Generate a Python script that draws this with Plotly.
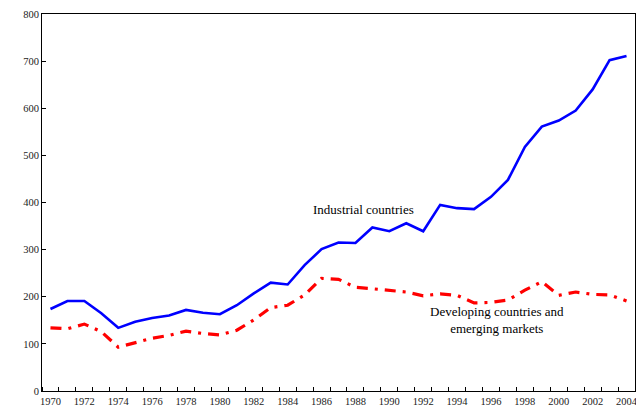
import plotly.graph_objects as go

years = list(range(1970, 2005))
industrial = [174, 191, 191, 165, 134, 147, 155, 160, 172, 166, 163, 182, 207, 230, 226, 267, 301,
              315, 314, 347, 339, 356, 339, 395, 388, 386, 412, 448, 518, 561, 574, 595, 640, 702, 711]
developing = [134, 132, 142, 126, 93, 103, 112, 118, 127, 122, 119, 129, 151, 177, 182, 204, 239,
              237, 220, 217, 214, 210, 202, 206, 203, 187, 188, 193, 214, 232, 203, 210, 205, 204, 191]
x_labels = [str(y) for y in range(1970, 2005, 2)]
x_label_vals = list(range(1970, 2005, 2))
y_ticks = list(range(0, 801, 100))

serif = "Liberation Serif, Times New Roman, serif"

fig = go.Figure()
fig.add_trace(go.Scatter(x=years, y=developing, mode="lines",
                         line=dict(color="#ff0000", width=3.2, dash="11px,7px,3px,7px"),
                         showlegend=False, hoverinfo="skip"))
fig.add_trace(go.Scatter(x=years, y=industrial, mode="lines",
                         line=dict(color="#0000ff", width=2.6),
                         showlegend=False, hoverinfo="skip"))

fig.add_annotation(x=1988.5, y=386, text="Industrial countries", showarrow=False,
                   font=dict(family=serif, size=13, color="#000"))
fig.add_annotation(x=1996.35, y=151, text="Developing countries and<br>emerging markets",
                   showarrow=False, align="center",
                   font=dict(family=serif, size=13, color="#000"))

# page body has an 8px default margin; compensate so the plot area sits where the reference has it
fig.update_layout(
    width=636, height=403,
    margin=dict(l=34, r=9, t=6, b=20),
    paper_bgcolor="white", plot_bgcolor="white",
    font=dict(family=serif, size=10.5, color="#222"),
    xaxis=dict(range=[1969.5, 2004.5], tickvals=x_label_vals, ticktext=x_labels,
               ticks="", showgrid=False, zeroline=False, automargin=False,
               showline=True, linecolor="#000", linewidth=1, mirror=True,
               tickfont=dict(family=serif, size=10.5, color="#222"),
               minor=dict(tick0=1969.5, dtick=1, ticks="inside", ticklen=4,
                          tickcolor="#000", showgrid=False)),
    yaxis=dict(range=[0, 800], tickvals=y_ticks, ticks="inside", ticklen=4,
               tickcolor="#000", showgrid=False, zeroline=False, automargin=False,
               showline=True, linecolor="#000", linewidth=1, mirror=True,
               tickfont=dict(family=serif, size=10.5, color="#222")),
)

fig.write_html("out.html")
